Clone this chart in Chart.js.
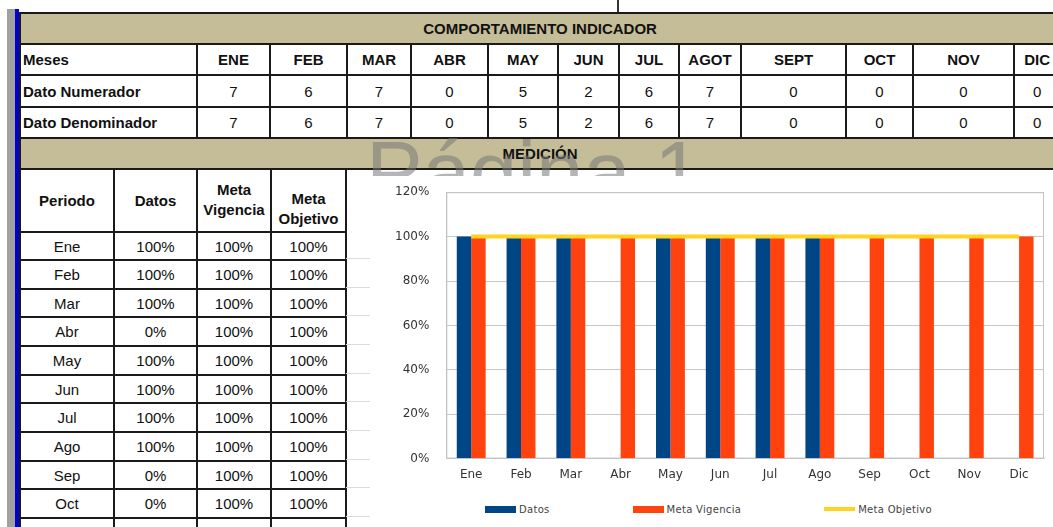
<!DOCTYPE html>
<html>
<head>
<meta charset="utf-8">
<script src="https://cdn.jsdelivr.net/npm/chart.js@4.4.1/dist/chart.umd.min.js"></script>
<style>
  body { margin: 0; width: 1053px; height: 527px; overflow: hidden; background: #fff; position: relative; font-family: "Liberation Sans", Arial, sans-serif; color: #111; }
  .barGray { position: absolute; left: 7px; top: 9px; width: 8px; height: 520px; background: #a0a0a0; }
  .barBlue { position: absolute; left: 15px; top: 9px; width: 4px; height: 520px; background: #0000d0; }
  .tick { position: absolute; left: 617px; top: 0; width: 2px; height: 12px; background: #333; }
  table { position: absolute; border-collapse: collapse; table-layout: fixed; }
  td { border: 2px solid #1a1a1a; padding: 0; text-align: center; font-size: 15px; overflow: hidden; white-space: nowrap; }
  .tan { background: #c4bd97; font-weight: bold; }
  .b { font-weight: bold; }
  .left { text-align: left; padding-left: 2px; }
  #top { left: 19px; top: 12px; }
  #low { left: 19px; top: 168px; }
  #low td.h { font-weight: bold; line-height: 20px; }
  .watermark { position: absolute; left: 366px; top: 129px; font-size: 85px; line-height: 85px; color: rgba(120,120,120,0.55); white-space: nowrap; }
  .grid { position: absolute; left: 346px; top: 231px; width: 30px; }
  .grid div { border-bottom: 1px solid #dcdcdc; box-sizing: border-box; }
  #wrap { position: absolute; left: 370px; top: 176px; width: 683px; height: 351px; background: #fff; }
  #canvasBox { position: absolute; left: 0; top: -8px; width: 683px; height: 321px; }
  #legend { position: absolute; left: -3px; top: 326px; width: 683px; display: flex; justify-content: center; gap: 83px; font-family: "DejaVu Sans", sans-serif; font-size: 10px; letter-spacing: 0.3px; color: #444; }
  #legend .item { display: flex; align-items: center; gap: 3px; height: 14px; }
</style>
</head>
<body>
<div class="tick"></div>
<table id="top"></table>
<table id="low"></table>
<div class="grid" id="grid"></div>
<div class="watermark">Página 1</div>
<div id="wrap">
  <div id="canvasBox"><canvas id="myChart"></canvas></div>
  <div id="legend"></div>
</div>
<div class="barGray"></div>
<div class="barBlue"></div>
<script>
// Datos de la tabla superior
const meses = ["ENE", "FEB", "MAR", "ABR", "MAY", "JUN", "JUL", "AGOT", "SEPT", "OCT", "NOV", "DIC"];
const datoNumerador = [7, 6, 7, 0, 5, 2, 6, 7, 0, 0, 0, 0];
const datoDenominador = [7, 6, 7, 0, 5, 2, 6, 7, 0, 0, 0, 0];

// Datos de medicion (porcentaje)
const periodos = ["Ene", "Feb", "Mar", "Abr", "May", "Jun", "Jul", "Ago", "Sep", "Oct", "Nov", "Dic"];
const datos = [100, 100, 100, 0, 100, 100, 100, 100, 0, 0, 0, 0];
const metaVigencia = [100, 100, 100, 100, 100, 100, 100, 100, 100, 100, 100, 100];
const metaObjetivo = [100, 100, 100, 100, 100, 100, 100, 100, 100, 100, 100, 100];

// tabla superior
const topWidths = [177, 73, 77, 64, 77, 70, 61, 60, 62, 105, 67, 101, 46];
const topTable = document.getElementById("top");
let html = "<colgroup>" + topWidths.map(w => `<col style="width:${w}px">`).join("") + "</colgroup>";
html += `<tr style="height:31px"><td class="tan" colspan="13">COMPORTAMIENTO INDICADOR</td></tr>`;
html += `<tr style="height:31px"><td class="b left">Meses</td>` + meses.map(m => `<td class="b">${m}</td>`).join("") + "</tr>";
html += `<tr style="height:32px"><td class="b left">Dato Numerador</td>` + datoNumerador.map(v => `<td>${v}</td>`).join("") + "</tr>";
html += `<tr style="height:31px"><td class="b left">Dato Denominador</td>` + datoDenominador.map(v => `<td>${v}</td>`).join("") + "</tr>";
html += `<tr style="height:31px"><td class="tan" colspan="13">MEDICIÓN</td></tr>`;
topTable.innerHTML = html;
topTable.style.width = topWidths.reduce((a, b) => a + b, 0) + "px";

// tabla de medicion
const lowWidths = [94, 83, 74, 75];
const rowHeights = [28, 29, 28, 29, 29, 28, 29, 29, 28, 29, 29, 29];
const lowTable = document.getElementById("low");
let h2 = "<colgroup>" + lowWidths.map(w => `<col style="width:${w}px">`).join("") + "</colgroup>";
h2 += `<tr style="height:63px"><td class="h">Periodo</td><td class="h">Datos</td><td class="h" style="padding-bottom:2px">Meta<br>Vigencia</td><td class="h" style="padding-top:16px">Meta<br>Objetivo</td></tr>`;
periodos.forEach((p, i) => {
  h2 += `<tr style="height:${rowHeights[i]}px"><td>${p}</td><td>${datos[i]}%</td><td>${metaVigencia[i]}%</td><td>${metaObjetivo[i]}%</td></tr>`;
});
lowTable.innerHTML = h2;
lowTable.style.width = lowWidths.reduce((a, b) => a + b, 0) + "px";

// lineas de la hoja a la derecha
const grid = document.getElementById("grid");
rowHeights.forEach(hh => {
  const d = document.createElement("div");
  d.style.height = hh + "px";
  grid.appendChild(d);
});

// borde del area del grafico
const plotBorder = {
  id: "plotBorder",
  beforeDatasetsDraw(chart) {
    const { ctx, chartArea } = chart;
    ctx.save();
    ctx.strokeStyle = "#c4c4c4";
    ctx.lineWidth = 1;
    ctx.strokeRect(chartArea.left + 0.5, chartArea.top + 0.5, chartArea.width - 1, chartArea.height - 1);
    ctx.restore();
  }
};

const ctx = document.getElementById("myChart").getContext("2d");
const myChart = new Chart(ctx, {
  type: "bar",
  data: {
    labels: periodos,
    datasets: [
      {
        label: "Datos",
        data: datos,
        backgroundColor: "#004586",
        order: 1,
        categoryPercentage: 0.58,
        barPercentage: 1.0,
      },
      {
        label: "Meta Vigencia",
        data: metaVigencia,
        backgroundColor: "#ff420e",
        order: 1,
        categoryPercentage: 0.58,
        barPercentage: 1.0,
      },
      {
        type: "line",
        label: "Meta Objetivo",
        data: metaObjetivo,
        borderColor: "#ffd320",
        backgroundColor: "#ffd320",
        borderWidth: 4,
        pointRadius: 0,
        order: 0,
      },
    ],
  },
  options: {
    animation: false,
    responsive: true,
    maintainAspectRatio: false,
    layout: {
      padding: { left: 8, right: 9, top: 3, bottom: 6 }
    },
    scales: {
      y: {
        min: 0,
        max: 120,
        ticks: {
          stepSize: 20,
          padding: 17,
          color: "#333",
          font: { family: "DejaVu Sans", size: 12 },
          callback: (v) => v + "%"
        },
        grid: { color: "#c8c8c8", drawTicks: false },
        border: { color: "#c4c4c4" }
      },
      x: {
        ticks: {
          padding: 1,
          color: "#333",
          font: { family: "DejaVu Sans", size: 12 }
        },
        grid: { display: false },
        border: { color: "#c4c4c4" }
      }
    },
    plugins: {
      tooltip: { enabled: false },
      legend: { display: false }
    }
  },
  plugins: [plotBorder]
});

// leyenda
function buildLegend(chart) {
  const legend = document.getElementById("legend");
  chart.data.datasets.forEach((dataset) => {
    const item = document.createElement("div");
    item.className = "item";
    const sw = document.createElement("span");
    sw.style.display = "inline-block";
    sw.style.width = "31px";
    sw.style.height = dataset.type === "line" ? "4px" : "7px";
    sw.style.background = dataset.type === "line" ? dataset.borderColor : dataset.backgroundColor;
    item.appendChild(sw);
    item.appendChild(document.createTextNode(dataset.label));
    legend.appendChild(item);
  });
}

buildLegend(myChart);
</script>
</body>
</html>
